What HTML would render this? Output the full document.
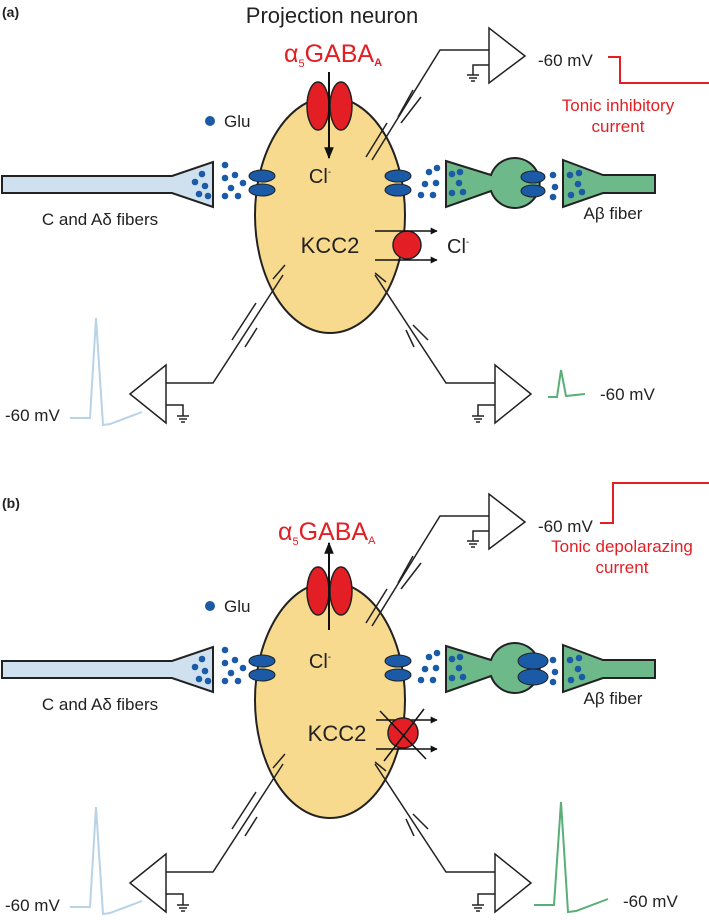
<!DOCTYPE html>
<html><head><meta charset="utf-8"><style>
html,body{margin:0;padding:0;background:#fff}
svg{display:block}
text{font-family:"Liberation Sans",Arial,sans-serif}
</style></head><body>
<svg width="709" height="920" viewBox="0 0 709 920" xmlns="http://www.w3.org/2000/svg">
<defs>
<marker id="ah" viewBox="0 0 10 10" refX="9" refY="5" markerWidth="7" markerHeight="7" orient="auto" markerUnits="userSpaceOnUse">
<path d="M0,0 L10,5 L0,10 z" fill="#111"/></marker>
<marker id="ah2" viewBox="0 0 10 10" refX="9" refY="5" markerWidth="12" markerHeight="12" orient="auto" markerUnits="userSpaceOnUse">
<path d="M0,1 L10,5 L0,9 z" fill="#111"/></marker>
<g id="fibers">
 <polygon points="2,176 172,176 213,162 213,207 172,193 2,193" fill="#cfe0ee" stroke="#222" stroke-width="2"/>
 <g fill="#1a5aa6">
  <circle cx="195" cy="182" r="3.3"/><circle cx="202" cy="174" r="3.3"/><circle cx="205" cy="186" r="3.3"/><circle cx="199" cy="194" r="3.3"/><circle cx="208" cy="196" r="3.3"/>
  <circle cx="225" cy="165" r="3.3"/><circle cx="225" cy="178" r="3.3"/><circle cx="235" cy="175" r="3.3"/><circle cx="243" cy="183" r="3.3"/><circle cx="231" cy="188" r="3.3"/><circle cx="225" cy="196" r="3.3"/><circle cx="238" cy="196" r="3.3"/>
  <circle cx="429" cy="172" r="3.3"/><circle cx="437" cy="168" r="3.3"/><circle cx="425" cy="184" r="3.3"/><circle cx="436" cy="183" r="3.3"/><circle cx="421" cy="195" r="3.3"/><circle cx="433" cy="195" r="3.3"/>
 </g>
 <path d="M446,161 L491,175 A25,25 0 1 1 491,191 L446,207 Z" fill="#6db98a" stroke="#222" stroke-width="2"/>
 <polygon points="563,160 603,175 655,175 655,193 603,193 563,207" fill="#6db98a" stroke="#222" stroke-width="2"/>
 <g fill="#1a5aa6">
  <circle cx="452" cy="174" r="3.3"/><circle cx="460" cy="172" r="3.3"/><circle cx="459" cy="183" r="3.3"/><circle cx="452" cy="193" r="3.3"/><circle cx="463" cy="192" r="3.3"/>
  <circle cx="553" cy="175" r="3.3"/><circle cx="555" cy="187" r="3.3"/><circle cx="553" cy="197" r="3.3"/>
  <circle cx="570" cy="175" r="3.3"/><circle cx="579" cy="173" r="3.3"/><circle cx="578" cy="184" r="3.3"/><circle cx="571" cy="195" r="3.3"/><circle cx="582" cy="192" r="3.3"/>
  <circle cx="210" cy="121" r="5"/>
 </g>
 <text x="100" y="225" font-size="17" fill="#222" text-anchor="middle">C and Aδ fibers</text>
 <text x="613" y="219" font-size="17" fill="#222" text-anchor="middle">Aβ fiber</text>
 <text x="224" y="127" font-size="17" fill="#222">Glu</text>
</g>
<g id="amps" fill="none" stroke="#222" stroke-width="1.5">
 <polyline points="283,275 213,383 166,383"/>
 <polygon points="166,365 166,423 130,394" fill="#fff"/>
 <polyline points="166,405 183,405 183,416"/>
 <line x1="177" y1="416" x2="189" y2="416"/><line x1="179" y1="419" x2="187" y2="419"/><line x1="181" y1="422" x2="185" y2="422"/>
 <line x1="232" y1="340" x2="256" y2="303"/><line x1="245" y1="347" x2="257" y2="328"/><line x1="273" y1="279" x2="285" y2="265"/>
 <polyline points="375,275 446,383 495,383"/>
 <polygon points="495,365 495,423 531,394" fill="#fff"/>
 <polyline points="495,405 478,405 478,416"/>
 <line x1="472" y1="416" x2="484" y2="416"/><line x1="474" y1="419" x2="482" y2="419"/><line x1="476" y1="422" x2="480" y2="422"/>
 <line x1="413" y1="325" x2="428" y2="340"/><line x1="406" y1="330" x2="414" y2="347"/><line x1="375" y1="273" x2="386" y2="282"/>
</g>
<g id="topamp" fill="none" stroke="#222" stroke-width="1.5">
 <polyline points="372,160 440,50 489,50"/>
 <polygon points="489,28 489,83 525,56" fill="#fff"/>
 <polyline points="489,65 473,65 473,75"/>
 <line x1="467" y1="75" x2="479" y2="75"/><line x1="469" y1="78" x2="477" y2="78"/><line x1="471" y1="81" x2="475" y2="81"/>
 <line x1="398" y1="117" x2="413" y2="90"/><line x1="401" y1="123" x2="421" y2="97"/><line x1="366" y1="157" x2="387" y2="123"/>
 <text x="538" y="66" font-size="17" fill="#222" stroke="none">-60 mV</text>
</g>
</defs>

<!-- PANEL A -->
<text x="2" y="17" font-size="14" font-weight="bold" fill="#222">(a)</text>
<text x="332" y="23" font-size="22" fill="#222" text-anchor="middle">Projection neuron</text>
<ellipse cx="330" cy="215" rx="75" ry="118" fill="#f7da8e" stroke="#222" stroke-width="2"/>
<use href="#fibers"/>
<g fill="#1a5aa6" stroke="#222" stroke-width="1">
 <ellipse cx="262" cy="176" rx="13" ry="6"/><ellipse cx="262" cy="190" rx="13" ry="6"/>
 <ellipse cx="398" cy="176" rx="13" ry="6"/><ellipse cx="398" cy="190" rx="13" ry="6"/>
 <ellipse cx="533" cy="177" rx="12" ry="6"/><ellipse cx="533" cy="191" rx="12" ry="6"/>
</g>
<g fill="#e31e24" stroke="#222" stroke-width="1.5">
 <ellipse cx="318" cy="106" rx="11" ry="24"/><ellipse cx="341" cy="106" rx="11" ry="24"/>
</g>
<line x1="329" y1="72" x2="329" y2="158" stroke="#111" stroke-width="2" marker-end="url(#ah2)"/>
<text x="284" y="62" font-size="25" fill="#e31e24">α<tspan font-size="11" dy="5">5</tspan><tspan dy="-5">GABA</tspan><tspan font-size="11" font-weight="bold" dy="4">A</tspan></text>
<text x="320" y="183" font-size="20" fill="#222" text-anchor="middle">Cl<tspan font-size="10" dy="-8">-</tspan></text>
<text x="330" y="253" font-size="22" fill="#222" text-anchor="middle">KCC2</text>
<circle cx="407" cy="245" r="14" fill="#e31e24" stroke="#222" stroke-width="1.5"/>
<line x1="375" y1="231" x2="437" y2="231" stroke="#111" stroke-width="1.5" marker-end="url(#ah)"/>
<line x1="375" y1="260" x2="437" y2="260" stroke="#111" stroke-width="1.5" marker-end="url(#ah)"/>
<text x="447" y="253" font-size="20" fill="#222">Cl<tspan font-size="10" dy="-8">-</tspan></text>
<use href="#amps"/>
<use href="#topamp"/>
<polyline points="608,57 620,57 620,83 709,83" fill="none" stroke="#e31e24" stroke-width="2"/>
<text x="618" y="111" font-size="17" fill="#e31e24" text-anchor="middle">Tonic inhibitory</text>
<text x="618" y="132" font-size="17" fill="#e31e24" text-anchor="middle">current</text>
<polyline points="70,418 90,418 96,318 103,425 110,424 142,412" fill="none" stroke="#b8d3e8" stroke-width="2"/>
<text x="5" y="421" font-size="17" fill="#222">-60 mV</text>
<polyline points="548,397 557,397 561,370 566,396 585,394" fill="none" stroke="#5aae78" stroke-width="2"/>
<text x="600" y="400" font-size="17" fill="#222">-60 mV</text>

<!-- PANEL B -->
<text x="2" y="508" font-size="14" font-weight="bold" fill="#222">(b)</text>
<g transform="translate(0,485)">
 <ellipse cx="330" cy="215" rx="75" ry="118" fill="#f7da8e" stroke="#222" stroke-width="2"/>
 <use href="#fibers"/>
 <g fill="#1a5aa6" stroke="#222" stroke-width="1">
  <ellipse cx="262" cy="176" rx="13" ry="6"/><ellipse cx="262" cy="190" rx="13" ry="6"/>
  <ellipse cx="398" cy="176" rx="13" ry="6"/><ellipse cx="398" cy="190" rx="13" ry="6"/>
  <ellipse cx="533" cy="176" rx="15" ry="8"/><ellipse cx="533" cy="192" rx="15" ry="8"/>
 </g>
 <g fill="#e31e24" stroke="#222" stroke-width="1.5">
  <ellipse cx="318" cy="106" rx="11" ry="24"/><ellipse cx="341" cy="106" rx="11" ry="24"/>
 </g>
 <line x1="329" y1="145" x2="329" y2="58" stroke="#111" stroke-width="2" marker-end="url(#ah2)"/>
 <text x="320" y="183" font-size="20" fill="#222" text-anchor="middle">Cl<tspan font-size="10" dy="-8">-</tspan></text>
 <text x="337" y="256" font-size="22" fill="#222" text-anchor="middle">KCC2</text>
 <line x1="376" y1="235" x2="437" y2="235" stroke="#111" stroke-width="1.5" marker-end="url(#ah)"/>
 <line x1="376" y1="264" x2="437" y2="264" stroke="#111" stroke-width="1.5" marker-end="url(#ah)"/>
 <circle cx="403" cy="248" r="15" fill="#e31e24" stroke="#222" stroke-width="1.5"/>
 <line x1="380" y1="226" x2="426" y2="274" stroke="#111" stroke-width="1.5"/>
 <line x1="424" y1="224" x2="384" y2="276" stroke="#111" stroke-width="1.5"/>
</g>
<text x="278" y="540" font-size="25" fill="#e31e24">α<tspan font-size="11" dy="5">5</tspan><tspan dy="-5">GABA</tspan><tspan font-size="11" dy="4">A</tspan></text>
<g transform="translate(0,489)"><use href="#amps"/></g>
<g transform="translate(0,466)"><use href="#topamp"/></g>
<polyline points="600,523 613,523 613,483 709,483" fill="none" stroke="#e31e24" stroke-width="2"/>
<text x="622" y="552" font-size="17" fill="#e31e24" text-anchor="middle">Tonic depolarazing</text>
<text x="622" y="573" font-size="17" fill="#e31e24" text-anchor="middle">current</text>
<polyline points="70,907 90,907 96,807 103,914 110,913 142,901" fill="none" stroke="#b8d3e8" stroke-width="2"/>
<text x="5" y="911" font-size="17" fill="#222">-60 mV</text>
<polyline points="534,905 554,905 561,802 568,912 576,911 608,899" fill="none" stroke="#5aae78" stroke-width="2"/>
<text x="623" y="907" font-size="17" fill="#222">-60 mV</text>
</svg>
</body></html>
